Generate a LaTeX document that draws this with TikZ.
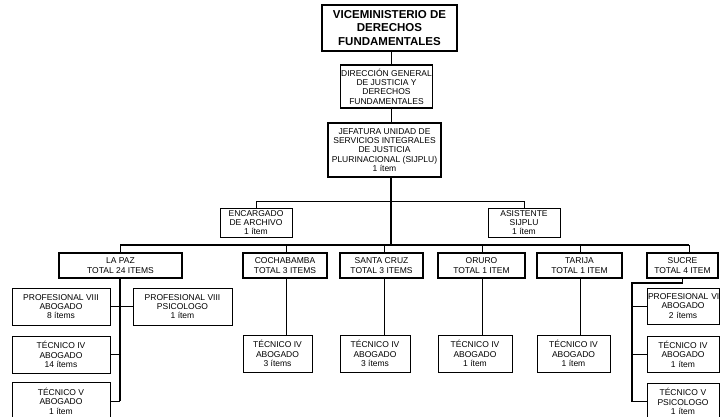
\documentclass[tikz,border=0pt]{standalone}
\usepackage{fontspec}
\setmainfont{Liberation Sans}
\begin{document}
\begin{tikzpicture}[x=1pt,y=-1pt,
  base/.style={draw, rectangle, inner sep=0.5pt, align=center, fill=white,
    font=\fontsize{8.5}{9.4}\selectfont},
  thk/.style={base, line width=1.6pt},
  thn/.style={base, line width=0.8pt},
  wire/.style={line width=0.8pt},
  trunk/.style={line width=2pt},
  busline/.style={line width=1.3pt}]
\useasboundingbox (0,0) rectangle (720,417);
\clip (0,0) rectangle (720,417);
% top
\node[thk, minimum width=135pt, minimum height=46pt, font=\fontsize{11.5}{13.5}\selectfont\bfseries] (vice) at (389.5,28) {VICEMINISTERIO DE\\DERECHOS\\FUNDAMENTALES};
\node[thk, minimum width=91pt, minimum height=43pt] (dg) at (386.5,86.5) {DIRECCIÓN GENERAL\\DE JUSTICIA Y\\DERECHOS\\FUNDAMENTALES};
\node[thk, minimum width=113pt, minimum height=54pt] (jef) at (384.5,150) {JEFATURA UNIDAD DE\\SERVICIOS INTEGRALES\\DE JUSTICIA\\PLURINACIONAL (SIJPLU)\\1 ítem};
\node[thn, minimum width=72pt, minimum height=29pt] (enc) at (256,222.5) {ENCARGADO\\DE ARCHIVO\\1 ítem};
\node[thn, minimum width=72pt, minimum height=29pt] (asi) at (524,222.5) {ASISTENTE\\SIJPLU\\1 ítem};
% regions
\node[thk, minimum width=123pt, minimum height=25pt] (lp) at (120.5,265.5) {LA PAZ\\TOTAL 24 ITEMS};
\node[thk, minimum width=84pt, minimum height=25pt] (cb) at (285,265.5) {COCHABAMBA\\TOTAL 3 ITEMS};
\node[thk, minimum width=83pt, minimum height=25pt] (sc) at (381.5,265.5) {SANTA CRUZ\\TOTAL 3 ITEMS};
\node[thk, minimum width=87pt, minimum height=25pt] (or) at (481.5,265.5) {ORURO\\TOTAL 1 ITEM};
\node[thk, minimum width=85pt, minimum height=25pt] (ta) at (579.5,265.5) {TARIJA\\TOTAL 1 ITEM};
\node[thk, minimum width=71pt, minimum height=25pt] (su) at (682.5,265.5) {SUCRE\\TOTAL 4 ITEM};
% La Paz children
\node[thn, minimum width=98pt, minimum height=37pt] (lp1) at (61,306.5) {PROFESIONAL VIII\\ABOGADO\\8 ítems};
\node[thn, minimum width=98pt, minimum height=37pt] (lp2) at (61,354.5) {TÉCNICO IV\\ABOGADO\\14 ítems};
\node[thn, minimum width=98pt, minimum height=37pt] (lp3) at (61,401) {TÉCNICO V\\ABOGADO\\1 ítem};
\node[thn, minimum width=99pt, minimum height=37pt] (psi) at (182.5,306.5) {PROFESIONAL VIII\\PSICOLOGO\\1 ítem};
% bottom tecnicos
\node[thn, minimum width=69pt, minimum height=37pt] (t1) at (277.5,353.5) {TÉCNICO IV\\ABOGADO\\3 ítems};
\node[thn, minimum width=70pt, minimum height=37pt] (t2) at (375,353.5) {TÉCNICO IV\\ABOGADO\\3 ítems};
\node[thn, minimum width=74pt, minimum height=37pt] (t3) at (475,353.5) {TÉCNICO IV\\ABOGADO\\1 ítem};
\node[thn, minimum width=73pt, minimum height=37pt] (t4) at (573.5,353.5) {TÉCNICO IV\\ABOGADO\\1 ítem};
% Sucre children
\node[thn, minimum width=72pt, minimum height=36pt, text width=70pt] (s1) at (683,306) {\mbox{PROFESIONAL VIII}\\ABOGADO\\2 ítems};
\node[thn, minimum width=72pt, minimum height=36pt, text width=70pt] (s2) at (683,354) {TÉCNICO IV\\ABOGADO\\1 ítem};
\node[thn, minimum width=72pt, minimum height=37pt, text width=70pt] (s3) at (683,401.5) {TÉCNICO V\\PSICOLOGO\\1 ítem};
% coordinates
\coordinate (tx) at (391,0);
\coordinate (h1) at (391,201);
\coordinate (bus) at (391,245);
\coordinate (bl) at (120,245);
\coordinate (br) at (689,245);
\coordinate (x2) at (286,0);
\coordinate (x3) at (384,0);
\coordinate (x4) at (482,0);
\coordinate (x5) at (580,0);
\coordinate (lpx) at (120,0);
\coordinate (sux) at (632,283);
% connectors
\draw[wire] (vice.south -| tx) -- (dg.north -| tx);
\draw[wire] (dg.south -| tx) -- (jef.north -| tx);
\draw[trunk] (jef.south -| tx) -- (bus);
\draw[wire] (enc.north) -- (enc.north |- h1) -- (asi.north |- h1) -- (asi.north);
\draw[busline] (bl) -- (br);
\draw[wire] (lp.north) -- (lp.north |- bl);
\draw[wire] (br) -- (su.north -| br);
\draw[wire] (x2 |- bus) -- (cb.north -| x2);
\draw[wire] (x3 |- bus) -- (sc.north -| x3);
\draw[wire] (x4 |- bus) -- (or.north -| x4);
\draw[wire] (x5 |- bus) -- (ta.north -| x5);
\draw[wire] (cb.south -| x2) -- (t1.north -| x2);
\draw[wire] (sc.south -| x3) -- (t2.north -| x3);
\draw[wire] (or.south -| x4) -- (t3.north -| x4);
\draw[wire] (ta.south -| x5) -- (t4.north -| x5);
% La Paz tree
\draw[busline] (lp.south -| lpx) -- (lpx |- lp3.east);
\draw[wire] (lp1.east) -- (psi.west);
\draw[wire] (lp2.east) -- (lpx |- lp2.east);
\draw[wire] (lp3.east) -- (lpx |- lp3.east);
% Sucre tree
\draw[busline] (su.south) -- (su.south |- sux) -- (sux) -- (sux |- s3.west);
\draw[wire] (sux |- s1.west) -- (s1.west);
\draw[wire] (sux |- s2.west) -- (s2.west);
\draw[wire] (sux |- s3.west) -- (s3.west);
\end{tikzpicture}
\end{document}
